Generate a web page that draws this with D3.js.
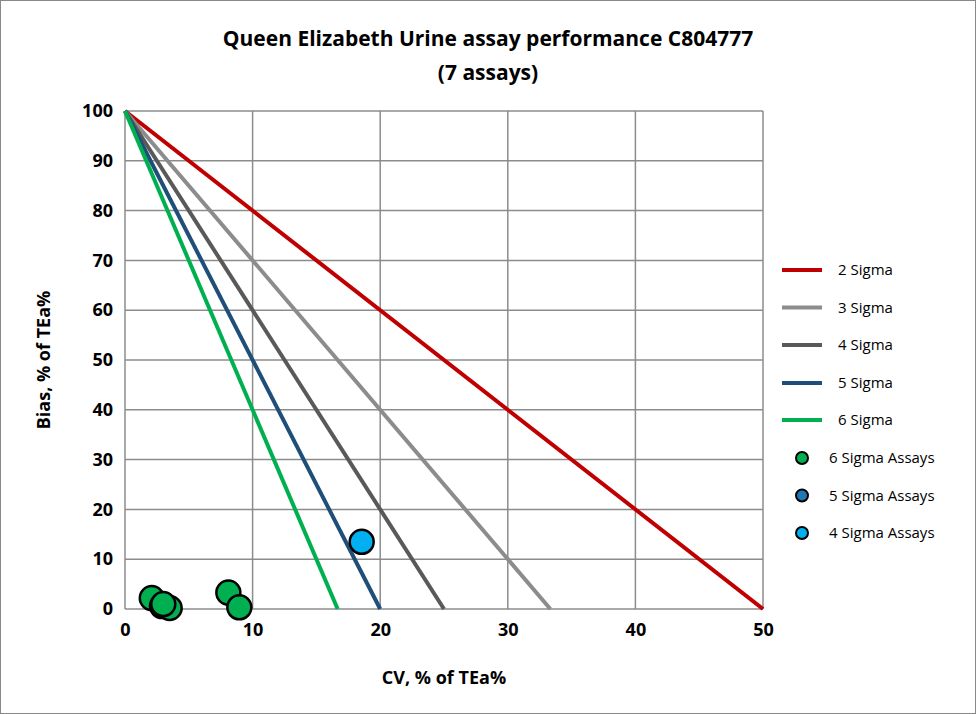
<!DOCTYPE html><html><head><script src="https://cdn.jsdelivr.net/npm/d3@7"></script>
<style>body{margin:0;background:#fff}</style></head><body><svg id="c" width="976" height="714"></svg>
<script>
const xTicks=[0,10,20,30,40,50];
const yTicks=[0,10,20,30,40,50,60,70,80,90,100];
const sigmaNames=["2 Sigma","3 Sigma","4 Sigma","5 Sigma","6 Sigma"];
const sigmaValues=[2,3,4,5,6];
const sigmaColors=["#C00000","#8C8C8C","#595959","#1F4E79","#00B050"];
const assayNames=["6 Sigma Assays","5 Sigma Assays","4 Sigma Assays"];
const assayColors=["#00B050","#1F77B4","#00B0F0"];
const sixCV=[2.1,8.1,2.9,3.5,8.96,3.0];
const sixBias=[2.2,3.3,0.6,0.2,0.35,1.0];
const fourCV=[18.55];const fourBias=[13.5];
const svg=d3.select("#c");
const F="'Open Sans','Liberation Sans',Arial,sans-serif";
svg.append("rect").attr("x",0.5).attr("y",0.5).attr("width",975).attr("height",713).attr("fill","#fff").attr("stroke","#888");
const x=d3.scaleLinear().domain([0,50]).range([125,763]);
const y=d3.scaleLinear().domain([0,100]).range([609,111]);
const g=svg.append("g");
xTicks.forEach(t=>g.append("line").attr("x1",x(t)).attr("x2",x(t)).attr("y1",y(0)).attr("y2",y(100)).attr("stroke","#8c8c8c").attr("stroke-width",1.5));
yTicks.forEach(t=>g.append("line").attr("x1",x(0)).attr("x2",x(50)).attr("y1",y(t)).attr("y2",y(t)).attr("stroke","#8c8c8c").attr("stroke-width",1.5));
const xa=svg.append("g").attr("transform",`translate(0,${y(0)})`).call(d3.axisBottom(x).tickValues(xTicks).tickSize(0).tickPadding(14));
const ya=svg.append("g").attr("transform",`translate(${x(0)},0)`).call(d3.axisLeft(y).tickValues(yTicks).tickSize(0).tickPadding(12));
[xa,ya].forEach(a=>{a.select(".domain").remove();a.selectAll("text").attr("font-family",F).attr("font-size",18).attr("font-weight","bold").attr("fill","#000");});
sigmaValues.forEach((s,i)=>{g.append("line").attr("x1",x(0)).attr("y1",y(100)).attr("x2",x(100/s)).attr("y2",y(0)).attr("stroke",sigmaColors[i]).attr("stroke-width",4);});
const pts=sixCV.map((c,i)=>[c,sixBias[i],0]).concat(fourCV.map((c,i)=>[c,fourBias[i],2]));
pts.forEach(p=>g.append("circle").attr("cx",x(p[0])).attr("cy",y(p[1])).attr("r",12).attr("fill",assayColors[p[2]]).attr("stroke","#000").attr("stroke-width",2.5));
svg.append("text").attr("x",488).attr("y",46).attr("text-anchor","middle").attr("font-family",F).attr("font-size",21).attr("font-weight","bold").text("Queen Elizabeth Urine assay performance C804777");
svg.append("text").attr("x",488).attr("y",80).attr("text-anchor","middle").attr("font-family",F).attr("font-size",21).attr("font-weight","bold").text("(7 assays)");
svg.append("text").attr("x",444).attr("y",684).attr("text-anchor","middle").attr("font-family",F).attr("font-size",18).attr("font-weight","bold").text("CV, % of TEa%");
svg.append("text").attr("transform","translate(50,360) rotate(-90)").attr("text-anchor","middle").attr("font-family",F).attr("font-size",18).attr("font-weight","bold").text("Bias, % of TEa%");
const ly=[270,307.5,345,383,420,458,495.5,533];
sigmaNames.forEach((n,i)=>{svg.append("line").attr("x1",782).attr("x2",822).attr("y1",ly[i]).attr("y2",ly[i]).attr("stroke",sigmaColors[i]).attr("stroke-width",4);
svg.append("text").attr("x",838).attr("y",ly[i]+5).attr("font-family",F).attr("font-size",15).text(n);});
assayNames.forEach((n,i)=>{const yy=ly[5+i];svg.append("circle").attr("cx",802).attr("cy",yy).attr("r",6).attr("fill",assayColors[i]).attr("stroke","#000").attr("stroke-width",2);
svg.append("text").attr("x",829).attr("y",yy+5).attr("font-family",F).attr("font-size",15).text(n);});
</script></body></html>
